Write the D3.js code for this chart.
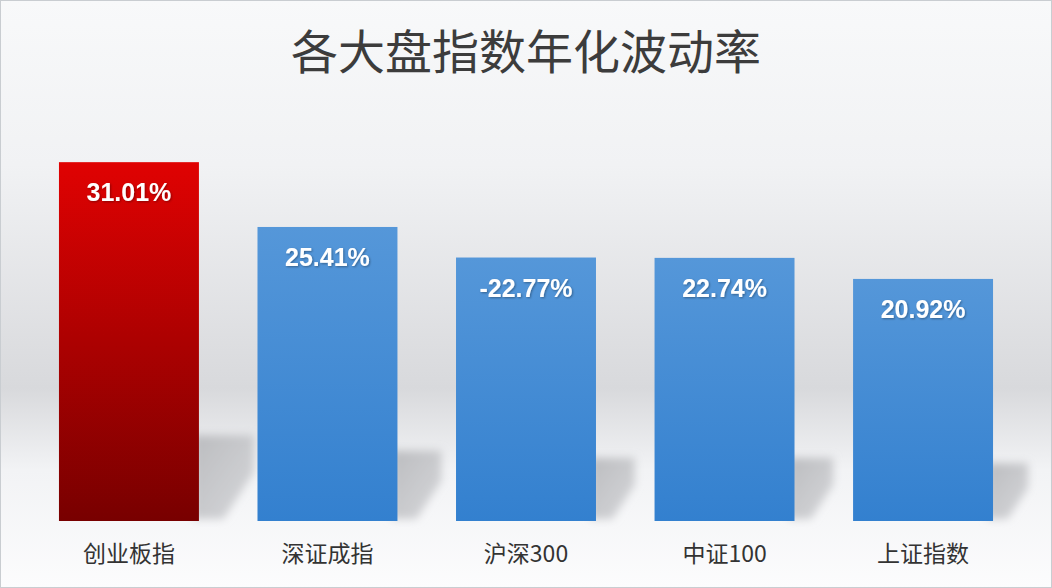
<!DOCTYPE html>
<html>
<head>
<meta charset="utf-8">
<script src="https://cdn.jsdelivr.net/npm/d3@7"></script>
<style>
  html, body { margin: 0; padding: 0; background: #fff; }
</style>
</head>
<body>
<div id="chart-area"></div>
<script>
const WIDTH = 1052
const HEIGHT = 588

const categories = ["创业板指", "深证成指", "沪深300", "中证100", "上证指数"]
const values = [31.01, 25.41, 22.77, 22.74, 20.92]
const valueLabels = ["31.01%", "25.41%", "-22.77%", "22.74%", "20.92%"]
const title = "各大盘指数年化波动率"

const svg = d3.select("#chart-area").append("svg")
  .attr("width", WIDTH)
  .attr("height", HEIGHT)

const defs = svg.append("defs")

// background wash
const bg = defs.append("linearGradient")
  .attr("id", "bg").attr("x1", 0).attr("y1", 0).attr("x2", 0).attr("y2", 1)
bg.append("stop").attr("offset", "0%").attr("stop-color", "#f8f9fa")
bg.append("stop").attr("offset", "28%").attr("stop-color", "#f1f2f4")
bg.append("stop").attr("offset", "66%").attr("stop-color", "#d8d9dc")
bg.append("stop").attr("offset", "80%").attr("stop-color", "#f2f3f5")
bg.append("stop").attr("offset", "100%").attr("stop-color", "#fcfcfd")

const red = defs.append("linearGradient")
  .attr("id", "red").attr("x1", 0).attr("y1", 0).attr("x2", 0).attr("y2", 1)
red.append("stop").attr("offset", "0%").attr("stop-color", "#e00202")
red.append("stop").attr("offset", "100%").attr("stop-color", "#780000")

const blue = defs.append("linearGradient")
  .attr("id", "blue").attr("x1", 0).attr("y1", 0).attr("x2", 0).attr("y2", 1)
blue.append("stop").attr("offset", "0%").attr("stop-color", "#5597d9")
blue.append("stop").attr("offset", "100%").attr("stop-color", "#3380cf")

const shade = defs.append("linearGradient")
  .attr("id", "shade").attr("x1", 0).attr("y1", 0).attr("x2", 1).attr("y2", 1)
shade.append("stop").attr("offset", "0%").attr("stop-color", "#bbbcbf")
shade.append("stop").attr("offset", "100%").attr("stop-color", "#d6d7da")

defs.append("filter").attr("id", "blur")
  .attr("x", "-20%").attr("y", "-20%").attr("width", "140%").attr("height", "140%")
  .append("feGaussianBlur").attr("stdDeviation", 4.5)

const ts = defs.append("filter").attr("id", "tshadow")
ts.append("feDropShadow").attr("dx", 1).attr("dy", 1).attr("stdDeviation", 0.8)
  .attr("flood-color", "#000").attr("flood-opacity", 0.35)

svg.append("rect")
  .attr("width", WIDTH).attr("height", HEIGHT)
  .attr("fill", "url(#bg)")
  .attr("stroke", "#c9cdd1").attr("stroke-width", 2)

// Title
svg.append("text")
  .attr("x", WIDTH / 2)
  .attr("y", 69)
  .attr("text-anchor", "middle")
  .style("font-family", "'Noto Sans CJK SC', sans-serif")
  .style("font-size", "47px")
  .attr("fill", "#3c3c3c")
  .text(title)

const x = d3.scaleBand()
  .domain(categories)
  .range([0, WIDTH])
  .paddingInner(0.295)
  .paddingOuter(0.297)

const y = d3.scaleLinear()
  .domain([0, 35])
  .range([521, 116])

const data = categories.map((c, i) => ({ name: c, value: values[i], label: valueLabels[i], i: i }))

// shadows behind bars
svg.selectAll(".shadow")
  .data(data)
  .enter().append("path")
  .attr("class", "shadow")
  .attr("fill", "url(#shade)")
  .attr("filter", "url(#blur)")
  .attr("d", d => {
    const h = y(0) - y(d.value)
    const x0 = x(d.name) + x.bandwidth() - 6
    const w = h * 0.17
    const top = y(0) - h * 0.24
    const bot = y(0) - 2
    return `M${x0},${top} L${x0 + w},${top} L${x0 + w},${bot - h * 0.13} L${x0 + w * 0.5},${bot} L${x0},${bot} Z`
  })

// bars
svg.selectAll(".bar")
  .data(data)
  .enter().append("rect")
  .attr("class", "bar")
  .attr("x", d => x(d.name))
  .attr("y", d => y(d.value))
  .attr("width", x.bandwidth())
  .attr("height", d => y(0) - y(d.value))
  .attr("fill", d => d.i === 0 ? "url(#red)" : "url(#blue)")

// value labels
svg.selectAll(".val")
  .data(data)
  .enter().append("text")
  .attr("class", "val")
  .attr("x", d => x(d.name) + x.bandwidth() / 2)
  .attr("y", d => y(d.value) + 39)
  .attr("text-anchor", "middle")
  .attr("fill", "#fff")
  .attr("filter", "url(#tshadow)")
  .style("font-family", "'Liberation Sans', Arial, sans-serif")
  .style("font-size", "25px")
  .style("font-weight", "bold")
  .text(d => d.label)

// category labels
const xAxisCall = d3.axisBottom(x).tickSize(0).tickPadding(0)
const xAxis = svg.append("g")
  .attr("class", "x axis")
  .attr("transform", "translate(0, 521)")
  .call(xAxisCall)
xAxis.select(".domain").remove()
xAxis.selectAll("text")
  .attr("y", 41)
  .attr("dy", 0)
  .attr("fill", "#333")
  .style("font-family", "'Noto Sans CJK SC', sans-serif")
  .style("font-size", "23px")
</script>
</body>
</html>
